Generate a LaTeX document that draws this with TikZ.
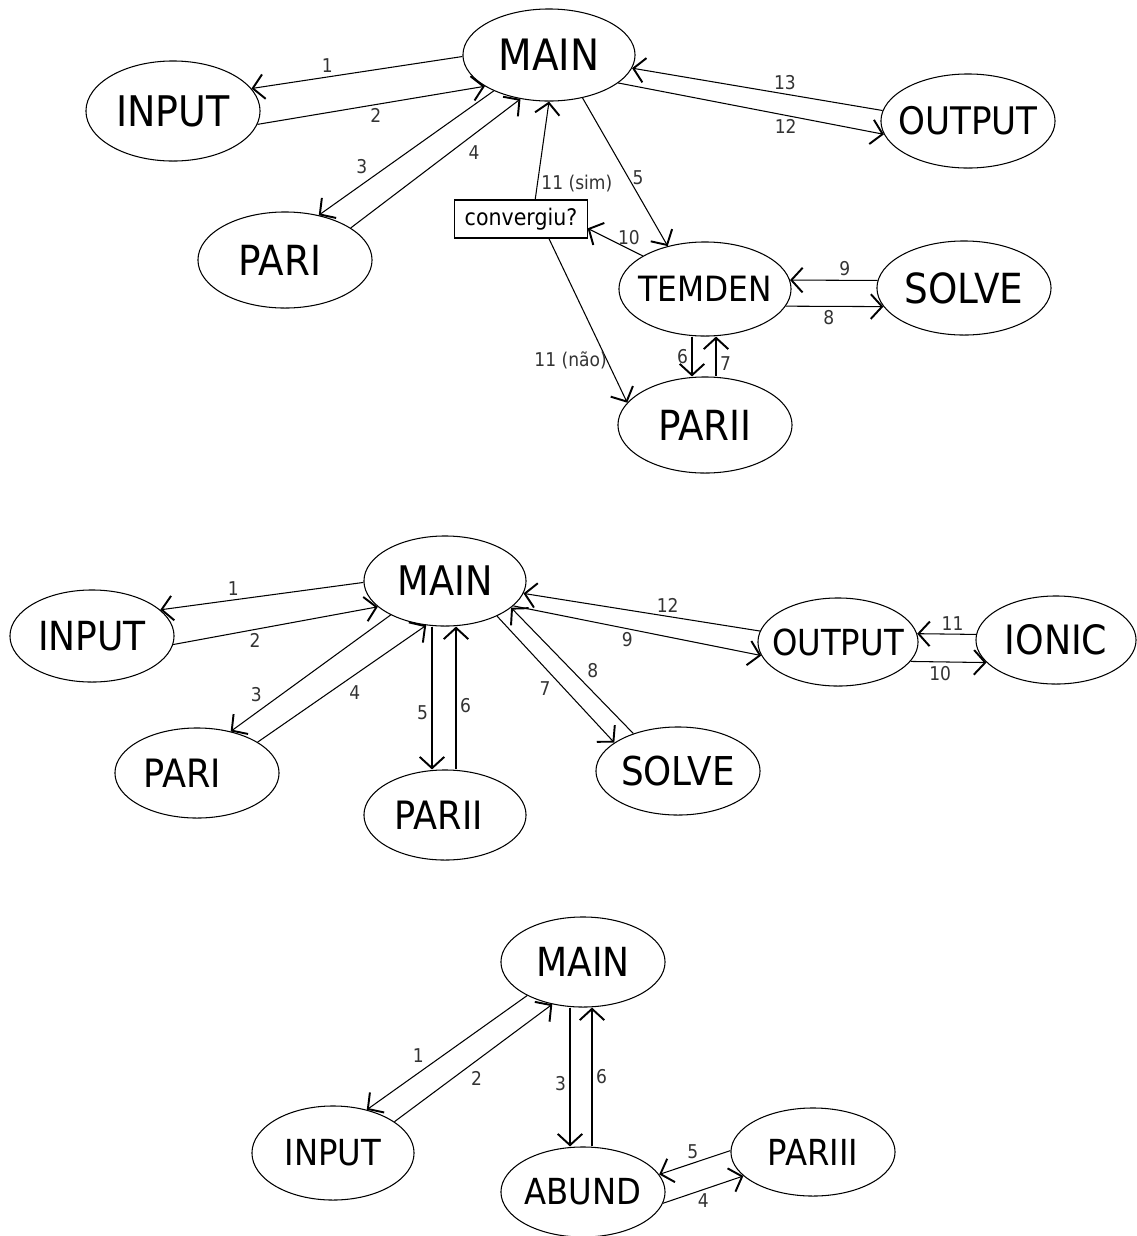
\documentclass[tikz,border=0pt]{standalone}
\usepackage{fontspec}
\setmainfont{DejaVu Sans}[FakeStretch=0.9]
\usetikzlibrary{shapes.geometric,arrows.meta}

\begin{document}
\begin{tikzpicture}[x=0.01cm, y=-0.01cm, line width=0.3pt,
        >={Straight Barb[length=3.2pt,width=7pt,line width=0.55pt]},
        proc/.style={ellipse, draw, inner sep=0pt, minimum width=1.74cm, minimum height=0.94cm,
            font=\fontsize{11.8}{12}\selectfont,
            execute at begin node={\hbox to 0pt\bgroup\hss}, execute at end node={\hss\egroup}},
        smallproc/.style={font=\fontsize{10.2}{11}\selectfont},
        lbl/.style={font=\fontsize{5.4}{6}\selectfont, text=black!80, inner sep=1pt},
        testbox/.style={draw, rectangle, inner sep=0pt, minimum width=1.32cm, minimum height=0.38cm,
            font=\fontsize{6.5}{7}\selectfont}]
        \useasboundingbox (0,0) rectangle (1137,1236);

        % primeiro diagrama
        \node[proc, minimum width=1.72cm, minimum height=0.92cm, font=\fontsize{12.3}{13}\selectfont] (main1) at (549,55) {MAIN};
        \node[proc, minimum height=1cm, font=\fontsize{12}{13}\selectfont] (input1) at (173,111) {INPUT};
        \node[proc, font=\fontsize{10.8}{11}\selectfont] (output1) at (968,121) {OUTPUT};
        \node[proc, minimum height=0.96cm] (pari1) at (285,260) {PARI\kern0.1cm};
        \node[testbox] (conv) at (521,219) {convergiu?};
        \node[proc, minimum width=1.72cm, font=\fontsize{9.9}{10}\selectfont] (temden) at (705,289) {TEMDEN};
        \node[proc] (solve1) at (964,288) {SOLVE};
        \node[proc, minimum height=0.96cm] (parii1) at (705,425) {PARII};

        \draw[->] (main1.181) -- (input1.16) node[lbl, pos=0.64, above] {1};
        \draw[->] (input1.351) -- (main1.206) node[lbl, pos=0.52, below] {2};
        \draw[->] (main1.213) -- (pari1.53) node[lbl, pos=0.7, above left] {3};
        \draw[->] (pari1.26) -- (main1.237) node[lbl, pos=0.67, below right] {4};
        \draw[->] (main1.308) -- (temden.131) node[lbl, pos=0.54, right] {5};
        \draw[->] ([xshift=-0.13cm]temden.south) -- ([xshift=-0.13cm]parii1.north) node[lbl, midway, left] {6};
        \draw[->] ([xshift=0.11cm]parii1.north) -- ([xshift=0.11cm]temden.south) node[lbl, pos=0.33, right] {7};
        \draw[->] (temden.-12) -- (solve1.193) node[lbl, pos=0.44, below] {8};
        \draw[->] (solve1.175) -- (temden.6) node[lbl, pos=0.375, above] {9};
        \draw[->] (temden.152) -- (conv.-8) node[lbl, pos=0.25, above] {10};
        \draw[->] (conv.54) -- (main1.south) node[lbl, pos=0.16, right] {11 (sim)};
        \draw[->] (conv.-35) -- (parii1.164) node[lbl, pos=0.745, left, inner sep=0pt] {11 (não)};
        \draw[->] (main1.-22) -- (output1.189) node[lbl, pos=0.63, below] {12};
        \draw[->] (output1.173) -- (main1.-9) node[lbl, pos=0.39, above] {13};

        % segundo diagrama
        \node[proc, minimum width=1.62cm, minimum height=0.9cm, font=\fontsize{11.6}{12}\selectfont] (main2) at (445,581) {MAIN};
        \node[proc, minimum width=1.64cm, minimum height=0.92cm, font=\fontsize{11.4}{12}\selectfont] (input2) at (92,636) {INPUT};
        \node[proc, minimum width=1.64cm, minimum height=0.9cm, font=\fontsize{11.1}{12}\selectfont] (pari2) at (197,773) {PARI\kern0.3cm};
        \node[proc, minimum width=1.62cm, minimum height=0.9cm, font=\fontsize{11.1}{12}\selectfont] (parii2) at (445,815) {PARII\kern0.12cm};
        \node[proc, minimum width=1.64cm, minimum height=0.88cm, font=\fontsize{11.3}{12}\selectfont] (solve2) at (678,771) {SOLVE};
        \node[proc, smallproc, minimum width=1.6cm, minimum height=0.88cm] (output2) at (838,642) {OUTPUT};
        \node[proc, minimum width=1.6cm, minimum height=0.88cm, font=\fontsize{11.5}{12}\selectfont] (ionic2) at (1056,640) {IONIC};

        \draw[->] (main2.181) -- (input2.21) node[lbl, pos=0.64, above] {1};
        \draw[->] (input2.354) -- (main2.201) node[lbl, pos=0.4, below] {2};
        \draw[->] (main2.212) -- (pari2.51) node[lbl, pos=0.78, above left] {3};
        \draw[->] (pari2.27) -- (main2.247) node[lbl, pos=0.52, below right] {4};
        \draw[->] ([xshift=-0.13cm]main2.south) -- ([xshift=-0.13cm]parii2.north) node[lbl, pos=0.6, left] {5};
        \draw[->] ([xshift=0.11cm]parii2.north) -- ([xshift=0.11cm]main2.south) node[lbl, pos=0.45, right] {6};
        \draw[->] (main2.326) -- (solve2.156) node[lbl, pos=0.49, below left] {7};
        \draw[->] (solve2.140) -- (main2.338) node[lbl, pos=0.41, above right] {8};
        \draw[->] (main2.340) -- (output2.190) node[lbl, pos=0.46, below] {9};
        \draw[->] (output2.345) -- (ionic2.198) node[lbl, pos=0.39, below] {10};
        \draw[->] (ionic2.176) -- (output2.6) node[lbl, pos=0.4, above] {11};
        \draw[->] (output2.172) -- (main2.351) node[lbl, pos=0.39, above] {12};

        % terceiro diagrama
        \node[proc, minimum width=1.64cm, minimum height=0.9cm, font=\fontsize{11.4}{12}\selectfont] (main3) at (583,962) {MAIN};
        \node[proc, smallproc, minimum width=1.62cm] (input3) at (333,1153) {INPUT};
        \node[proc, smallproc, minimum width=1.64cm, minimum height=0.9cm] (abund3) at (583,1192) {ABUND};
        \node[proc, smallproc, minimum width=1.64cm, minimum height=0.88cm] (pariii3) at (813,1152) {PARIII};

        \draw[->] (main3.211) -- (input3.52) node[lbl, pos=0.62, above left] {1};
        \draw[->] (input3.27) -- (main3.234) node[lbl, pos=0.46, below right] {2};
        \draw[->] ([xshift=-0.13cm]main3.south) -- ([xshift=-0.13cm]abund3.north) node[lbl, pos=0.55, left] {3};
        \draw[->] (abund3.352) -- (pariii3.199) node[lbl, pos=0.5, below] {4};
        \draw[->] (pariii3.179) -- (abund3.13) node[lbl, pos=0.53, above] {5};
        \draw[->] ([xshift=0.09cm]abund3.north) -- ([xshift=0.09cm]main3.south) node[lbl, pos=0.5, right] {6};

    \end{tikzpicture}
\end{document}
